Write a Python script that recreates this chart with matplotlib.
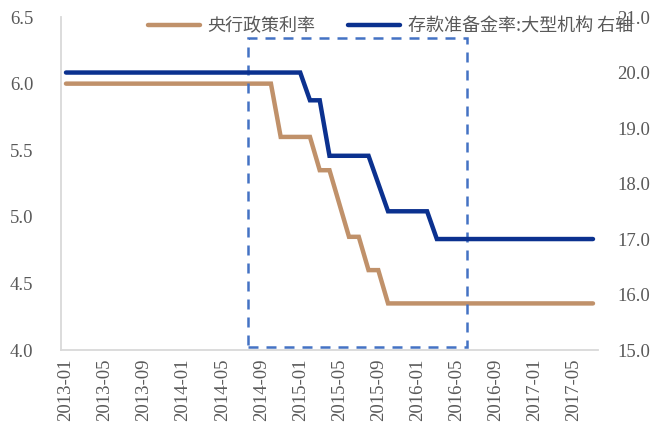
import matplotlib
matplotlib.use("Agg")
import matplotlib.pyplot as plt
import numpy as np
import pandas as pd
from matplotlib.patches import Rectangle

plt.rcParams["font.family"] = ["Liberation Serif", "Noto Sans CJK SC"]

# monthly values, 2013-01 .. 2017-07
months = pd.period_range("2013-01", "2017-07", freq="M").strftime("%Y-%m").tolist()

# central bank policy rate (left axis)
policy_rate = (
    [6.00] * 22                      # 2013-01 .. 2014-10
    + [5.60] * 4                     # 2014-11 .. 2015-02
    + [5.35] * 2                     # 2015-03 .. 2015-04
    + [5.10, 4.85, 4.85, 4.60, 4.60]  # 2015-05 .. 2015-09
    + [4.35] * 22                    # 2015-10 .. 2017-07
)

# reserve requirement ratio, large institutions (right axis)
rrr_large = (
    [20.0] * 25                      # 2013-01 .. 2015-01
    + [19.5] * 2                     # 2015-02 .. 2015-03
    + [18.5] * 5                     # 2015-04 .. 2015-08
    + [18.0]                         # 2015-09
    + [17.5] * 5                     # 2015-10 .. 2016-02
    + [17.0] * 17                    # 2016-03 .. 2017-07
)

# highlighted window (index range on x, value range on left axis)
box_x = [18.6, 41.1]
box_y = [4.02, 6.34]

tick_idx = list(range(0, len(months), 4))

TAN = "#C0916A"
NAVY = "#0B318F"
GRAY = "#595959"

fig = plt.figure(figsize=(6.57, 4.37), dpi=100)
ax = fig.add_axes([0.093, 0.199, 0.817, 0.762])
ax2 = ax.twinx()

x = np.arange(len(months))
l1, = ax.plot(x, policy_rate, color=TAN, lw=3.2, solid_capstyle="round",
              solid_joinstyle="miter", label="央行政策利率", zorder=3)
l2, = ax2.plot(x, rrr_large, color=NAVY, lw=3.2, solid_capstyle="round",
               solid_joinstyle="miter", label="存款准备金率:大型机构 右轴", zorder=3)

ax.add_patch(Rectangle((box_x[0], box_y[0]), box_x[1] - box_x[0], box_y[1] - box_y[0],
                       fill=False, edgecolor="#4472C4", lw=1.8, ls=(0, (4, 3.2)),
                       zorder=4, clip_on=False))

ax.set_xlim(-0.5, len(months) - 0.5)
ax.set_ylim(4.0, 6.5)
ax2.set_ylim(15.0, 21.0)
ax.set_yticks(np.arange(4.0, 6.51, 0.5))
ax.set_yticklabels([f"{v:.1f}" for v in np.arange(4.0, 6.51, 0.5)])
ax2.set_yticks(np.arange(15, 22, 1))
ax2.set_yticklabels([f"{v:.1f}" for v in np.arange(15, 22, 1)])
ax.set_xticks(tick_idx)
ax.set_xticklabels([months[i] for i in tick_idx], rotation=90)

for a in (ax, ax2):
    for s in a.spines.values():
        s.set_visible(False)
    a.tick_params(length=0, labelsize=13.5, labelcolor=GRAY)
ax.spines["left"].set_visible(True)
ax.spines["bottom"].set_visible(True)
ax.spines["left"].set_color("#D9D9D9")
ax.spines["bottom"].set_color("#D9D9D9")
ax.spines["left"].set_linewidth(1.3)
ax.spines["bottom"].set_linewidth(1.3)
ax.tick_params(axis="y", pad=20)
ax.tick_params(axis="x", pad=6)
ax2.tick_params(axis="y", pad=14)

fig.legend(handles=[l1, l2], loc="center", bbox_to_anchor=(0.594, 0.94), ncol=2,
           frameon=False, handlelength=2.9, handletextpad=0.4, columnspacing=1.8,
           prop={"family": ["Noto Sans CJK SC"], "size": 13}, labelcolor=GRAY)

fig.savefig("out.png", dpi=100)
